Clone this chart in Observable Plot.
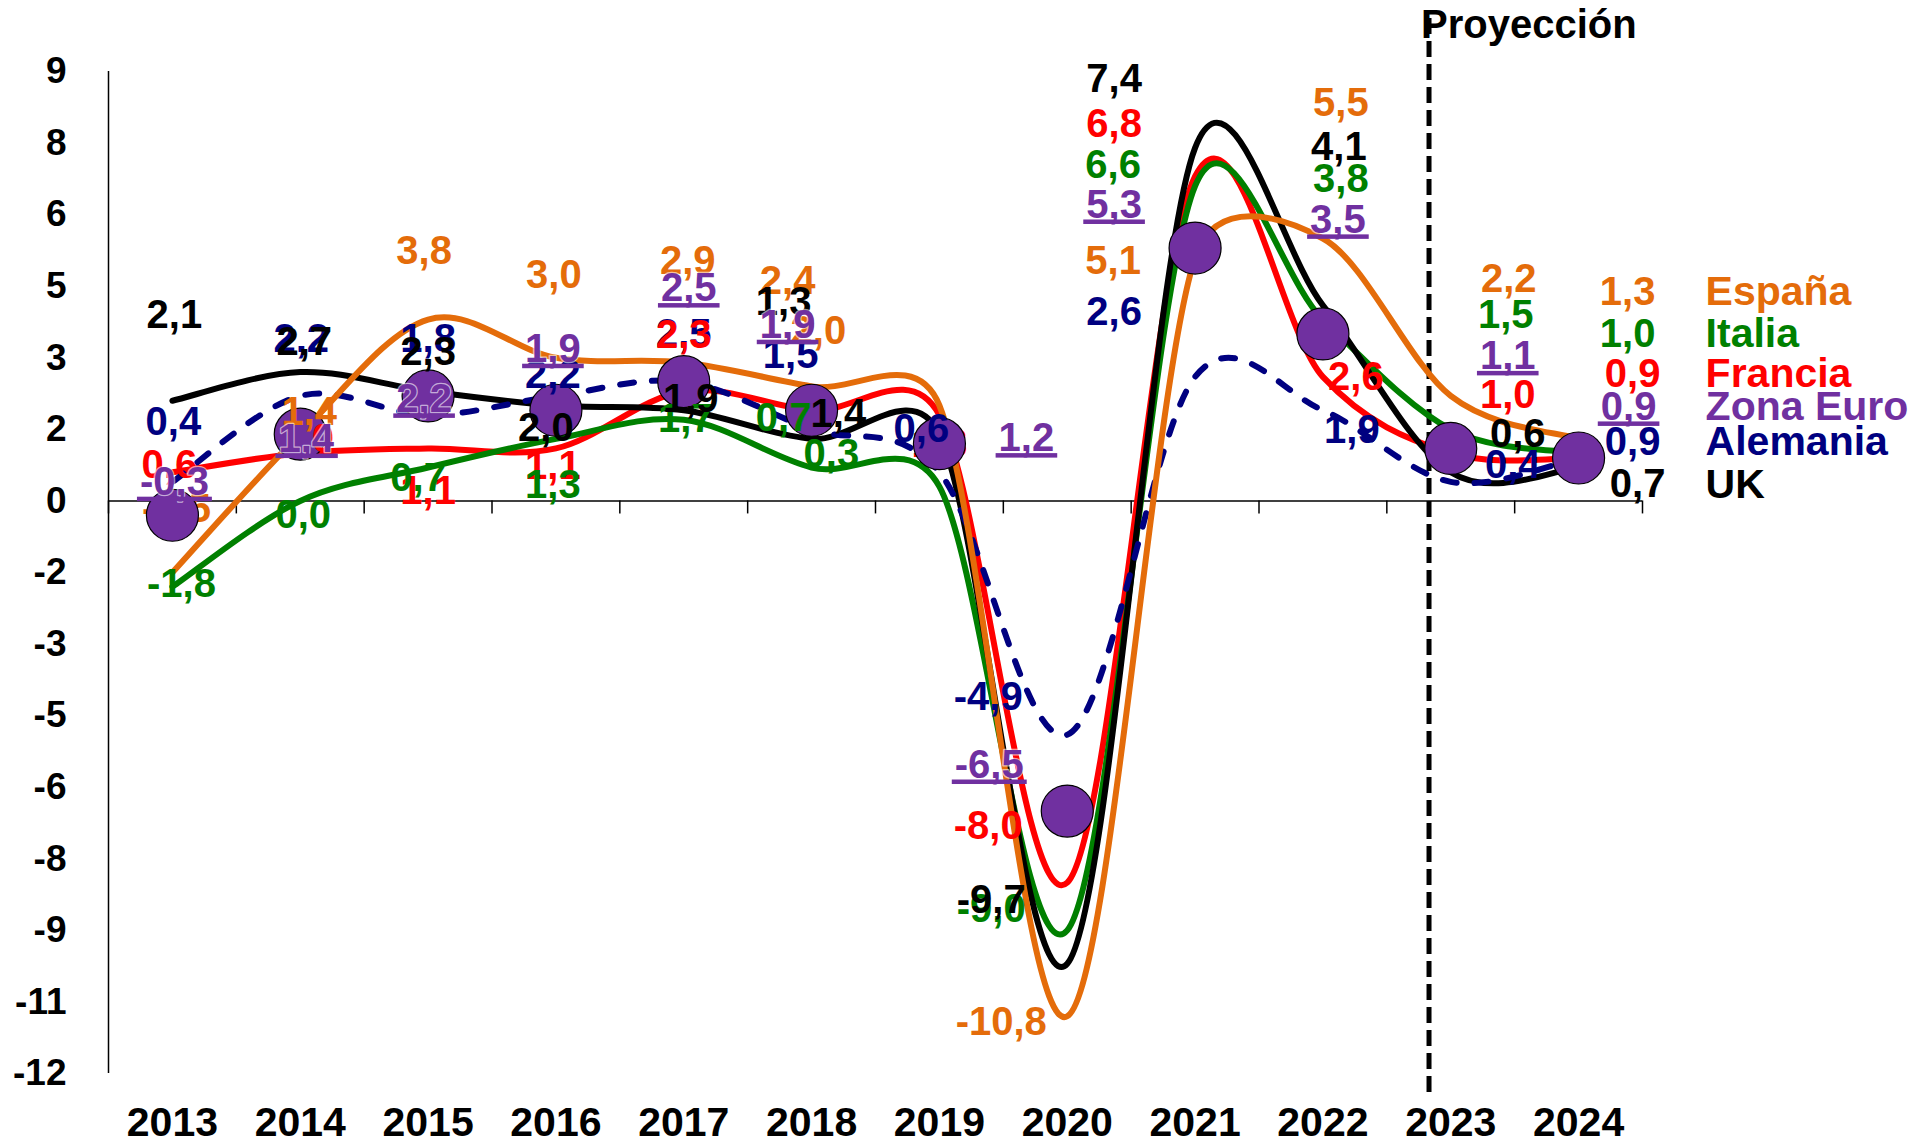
<!DOCTYPE html>
<html>
<head>
<meta charset="utf-8">
<script src="https://cdn.jsdelivr.net/npm/d3@7"></script>
<script src="https://cdn.jsdelivr.net/npm/@observablehq/plot@0.6"></script>
<style>
  html, body { margin: 0; padding: 0; background: #fff; overflow: hidden; }
  #chart svg { display: block; }
</style>
</head>
<body>
<div id="chart"></div>
<script>
// ---------------- DATA ----------------
const years    = [2013, 2014, 2015, 2016, 2017, 2018, 2019, 2020, 2021, 2022, 2023, 2024];
const espana   = [-1.5, 1.4, 3.8, 3.0, 2.9, 2.4, 2.0, -10.8, 5.1, 5.5, 2.2, 1.3];
const italia   = [-1.8, 0.0, 0.7, 1.3, 1.7, 0.7, 0.3, -9.0, 6.6, 3.8, 1.5, 1.0];
const francia  = [0.6, 1.0, 1.1, 1.1, 2.3, 1.9, 1.8, -8.0, 6.8, 2.6, 1.0, 0.9];
const zonaEuro = [-0.3, 1.4, 2.2, 1.9, 2.5, 1.9, 1.2, -6.5, 5.3, 3.5, 1.1, 0.9];
const alemania = [0.4, 2.2, 1.8, 2.2, 2.5, 1.5, 0.6, -4.9, 2.6, 1.9, 0.4, 0.9];
const uk       = [2.1, 2.7, 2.3, 2.0, 1.9, 1.3, 1.4, -9.7, 7.4, 4.1, 0.6, 0.7];

const seriesNames = ["España", "Italia", "Francia", "Zona Euro", "Alemania", "UK"];
const yTicks      = [9, 7.5, 6, 4.5, 3, 1.5, 0, -1.5, -3, -4.5, -6, -7.5, -9, -10.5, -12];
const yTickLabels = ["9", "8", "6", "5", "3", "2", "0", "-2", "-3", "-5", "-6", "-8", "-9", "-11", "-12"];
const proyeccionX = 2022.83;
const proyeccionLabel = "Proyección";

// ---------------- STYLE / LAYOUT ----------------
const values = {"España": espana, "Italia": italia, "Francia": francia, "Zona Euro": zonaEuro, "Alemania": alemania, "UK": uk};
const colors = {"España": "#E46C0A", "Italia": "#008000", "Francia": "#FF0000", "Zona Euro": "#7030A0", "Alemania": "#000080", "UK": "#000000"};
// label offsets in pixels from each data point [dx, dy]
const labelOffsets = {
  "UK":        [[2,-86],[4,-30],[0,-39],[-10,23],[7,-11],[-28,-137],[-101,-20],[-76,-64],[-81,-69],[16,-158],[67,-38],[59,17]],
  "Alemania":  [[1,-60],[1,-57],[0,-76],[-3,-21],[0,-47],[-21,-74],[-18,-43],[-79,-38],[-81,-65],[29,20],[62,-17],[54,-16]],
  "Francia":   [[-3,-7],[6,-14],[0,43],[-3,18],[0,-56],[-24,-85],[0,29],[-79,-56],[-81,-52],[33,0],[57,-58],[54,-84]],
  "Italia":    [[9,-3],[3,14],[-10,11],[-3,46],[2,-1],[-28,-49],[-108,-32],[-76,-21],[-82,-21],[18,-140],[55,-114],[49,-119]],
  "España":    [[4,-63],[9,-22],[-4,-68],[-2,-83],[4,-101],[-24,-105],[-121,-74],[-66,6],[-82,4],[18,-135],[58,-117],[49,-147]],
  "Zona Euro": [[2,-33],[6,5],[-4,3],[-3,-61],[5,-93],[-24,-85],[87,-5],[-78,-46],[-81,-43],[15,-114],[57,-92],[50,-51]]
};
// labels drawn beneath the euro-area markers
const underMarkers = {"España": [2013], "Francia": [2019]};

const fmt = v => v.toFixed(1).replace(".", ",");
const rowsOf = name => years.map((year, i) => ({serie: name, year, value: values[name][i],
  label: fmt(values[name][i]), dx: labelOffsets[name][i][0], dy: labelOffsets[name][i][1]}));

const xDomain = [years[0] - 0.5, years[years.length - 1] + 0.5];
const boundaries = d3.range(xDomain[0], xDomain[1] + 0.001, 1);

const FONT = "'Liberation Sans', Arial, Helvetica, sans-serif";
const LABEL_SIZE = 40;

// Spreadsheet-style smoothed line: Catmull-Rom Bézier whose handles are
// limited to half of the segment they belong to (reduces overshoot).
function smoothCurve(context) {
  return {
    _pts: [],
    areaStart() {}, areaEnd() {},
    lineStart() { this._pts = []; },
    point(x, y) { this._pts.push([+x, +y]); },
    lineEnd() {
      const p = this._pts, n = p.length, c = context;
      if (!n) return;
      c.moveTo(p[0][0], p[0][1]);
      const K = 0.5;
      for (let i = 0; i < n - 1; i++) {
        const p0 = p[i - 1] || p[i], p1 = p[i], p2 = p[i + 1], p3 = p[i + 2] || p[i + 1];
        const seg = Math.hypot(p2[0] - p1[0], p2[1] - p1[1]);
        let ax = (p2[0] - p0[0]) / 6, ay = (p2[1] - p0[1]) / 6;
        let bx = (p3[0] - p1[0]) / 6, by = (p3[1] - p1[1]) / 6;
        const la = Math.hypot(ax, ay), lb = Math.hypot(bx, by);
        if (la > seg * K) { const s = seg * K / la; ax *= s; ay *= s; }
        if (lb > seg * K) { const s = seg * K / lb; bx *= s; by *= s; }
        c.bezierCurveTo(p1[0] + ax, p1[1] + ay, p2[0] - bx, p2[1] - by, p2[0], p2[1]);
      }
    }
  };
}

const labelMark = (r) => Plot.text([r], {
  x: "year", y: "value", text: "label", dx: r.dx, dy: r.dy,
  fill: colors[r.serie], fontSize: LABEL_SIZE, fontWeight: "bold",
  textAnchor: "middle", lineAnchor: "middle",
  stroke: r.serie === "Zona Euro" ? "#fff" : null,
  strokeWidth: r.serie === "Zona Euro" ? 2.5 : null,
  strokeOpacity: r.serie === "Zona Euro" ? 0.6 : null
});

const lineOrder = ["Francia", "Italia", "UK", "Alemania", "España"];
const labelOrder = ["España", "Alemania", "Francia", "Italia", "UK", "Zona Euro"];

const marks = [];
// axes lines
marks.push(Plot.ruleX([xDomain[0]], {stroke: "#000", strokeWidth: 1.5}));
marks.push(Plot.ruleY([0], {stroke: "#000", strokeWidth: 1.5}));
marks.push(Plot.ruleX(boundaries, {y1: 0, y2: 0, insetBottom: -13, stroke: "#000", strokeWidth: 1.5}));
// projection line
marks.push(Plot.ruleX([proyeccionX], {stroke: "#000", strokeWidth: 5, strokeDasharray: "16,7", insetTop: -53, insetBottom: -22}));

// lines
for (const name of lineOrder) {
  marks.push(Plot.line(rowsOf(name), {
    x: "year", y: "value", stroke: colors[name], strokeWidth: 6,
    curve: smoothCurve,
    strokeDasharray: name === "Alemania" ? "14,18" : null,
    strokeLinecap: "round", strokeLinejoin: "round"
  }));
}

// labels under markers
for (const name of labelOrder) {
  for (const r of rowsOf(name)) {
    if ((underMarkers[name] || []).includes(r.year)) marks.push(labelMark(r));
  }
}

// euro markers
marks.push(Plot.dot(rowsOf("Zona Euro"), {x: "year", y: "value", r: 26, fill: colors["Zona Euro"], stroke: "#000", strokeWidth: 1.2}));

// labels
for (const name of labelOrder) {
  for (const r of rowsOf(name)) {
    if (!(underMarkers[name] || []).includes(r.year)) marks.push(labelMark(r));
  }
}

// legend at the end of each series
for (const name of seriesNames) {
  const last = rowsOf(name)[years.length - 1];
  marks.push(Plot.text([last], {
    x: "year", y: "value", text: () => name, dx: 127, dy: last.dy,
    fill: colors[name], fontSize: LABEL_SIZE + 1, fontWeight: "bold",
    textAnchor: "start", lineAnchor: "middle"
  }));
}

// projection title
marks.push(Plot.text([proyeccionLabel], {
  x: proyeccionX, frameAnchor: "top", text: d => d, dx: -8, dy: -46,
  fontSize: 40, fontWeight: "bold", fill: "#000", textAnchor: "start", lineAnchor: "middle"
}));

// axes
marks.push(Plot.axisY(yTicks, {
  tickSize: 0, tickPadding: 42, fontSize: 37, fontWeight: "bold", label: null,
  tickFormat: d => yTickLabels[yTicks.indexOf(d)]
}));
marks.push(Plot.axisX(years, {
  tickSize: 0, tickPadding: 33, fontSize: 41, fontWeight: "bold", label: null,
  tickFormat: d => String(d)
}));

const chart = Plot.plot({
  width: 1917,
  height: 1144,
  marginLeft: 108,
  marginRight: 275,
  marginTop: 71,
  marginBottom: 71,
  style: {fontFamily: FONT, background: "#fff", color: "#000", overflow: "visible"},
  x: {type: "linear", domain: xDomain, label: null},
  y: {type: "linear", domain: [-12, 9], label: null},
  marks
});

document.getElementById("chart").appendChild(chart);

// underline the euro-area value labels (as in the original)
const euroRGB = d3.rgb(colors["Zona Euro"]).toString();
const euroTexts = new Set(zonaEuro.map(fmt));
d3.select(chart).selectAll("text").each(function () {
  const fill = d3.rgb(getComputedStyle(this).fill).toString();
  if (fill !== euroRGB || !euroTexts.has(this.textContent)) return;
  const b = this.getBBox();
  const t = this.getAttribute("transform");
  d3.select(this.parentNode).append("rect")
    .attr("transform", t)
    .attr("x", b.x - 3)
    .attr("y", b.y + b.height * 0.81 + 2)
    .attr("width", b.width + 6)
    .attr("height", 4.5)
    .attr("fill", colors["Zona Euro"])
    .attr("stroke", "none");
});
</script>
</body>
</html>
